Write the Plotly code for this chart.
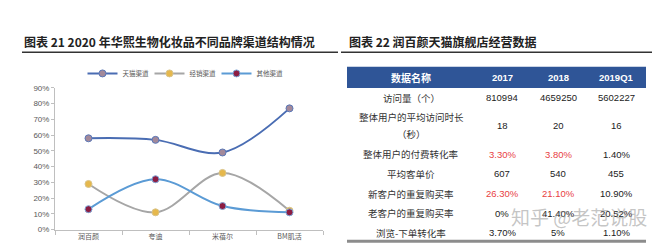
import plotly.graph_objects as go

W, H = 666, 252

# ---------------- data ----------------
brands = ["润百颜", "夸迪", "米蓓尔", "BM肌活"]
tmall = [58, 57, 49, 77]        # 天猫渠道
distrib = [29, 11, 36, 12]      # 经销渠道
other = [13, 32, 15, 11]        # 其他渠道
y_ticks = [0, 10, 20, 30, 40, 50, 60, 70, 80, 90]
y_tick_labels = ["0%", "10%", "20%", "30%", "40%", "50%", "60%", "70%", "80%", "90%"]

table_header = ["数据名称", "2017", "2018", "2019Q1"]
row_names = ["访问量（个）", "整体用户的平均访问时长\n（秒）", "整体用户的付费转化率",
             "平均客单价", "新客户的重复购买率", "老客户的重复购买率", "浏览-下单转化率"]
col_2017 = ["810994", "18", "3.30%", "607", "26.30%", "0%", "3.70%"]
col_2018 = ["4659250", "20", "3.80%", "540", "21.10%", "41.40%", "5%"]
col_2019 = ["5602227", "16", "1.40%", "455", "10.90%", "20.52%", "1.10%"]
red_cells = {(2, 0), (2, 1), (4, 0), (4, 1)}  # (row, value column)

title_left = "图表 21 2020 年华熙生物化妆品不同品牌渠道结构情况"
title_right = "图表 22 润百颜天猫旗舰店经营数据"
watermark = "知乎 @老范说股"


def px(x):
    return x / W


def py(y):
    return 1 - y / H


CJK = "Noto Sans CJK SC"
ARIAL = "Liberation Sans, Arial"

fig = go.Figure()

series = [
    ("天猫渠道", tmall, "#4a6db3", "#a3899a", "#5a78b8"),
    ("经销渠道", distrib, "#a6a6a6", "#e6b84c", "#d9c48a"),
    ("其他渠道", other, "#5b9bd5", "#8c1c42", "#7fa6d6"),
]
for name, vals, lc, mc, mlc in series:
    fig.add_trace(go.Scatter(
        x=brands, y=vals, name=name, mode="lines+markers",
        line=dict(color=lc, width=2, shape="spline", smoothing=1.0),
        marker=dict(color=mc, size=7, line=dict(color=mlc, width=1)),
        hoverinfo="skip",
    ))

fig.update_layout(
    width=W, height=H, margin=dict(l=0, r=0, t=0, b=0),
    paper_bgcolor="white", plot_bgcolor="white",
    showlegend=True,
    legend=dict(orientation="h", x=px(183), xanchor="center", y=py(72), yanchor="middle",
                font=dict(family=CJK, size=6.5, color="#595959"),
                itemwidth=30, entrywidth=22, entrywidthmode="pixels",
                bgcolor="rgba(0,0,0,0)"),
    xaxis=dict(domain=[px(55), px(323)], type="category", range=[-0.5, 3.5],
               showline=True, linecolor="#bfbfbf", linewidth=1,
               ticks="outside", tickson="boundaries", ticklen=4, tickcolor="#bfbfbf",
               showgrid=False, zeroline=False,
               tickfont=dict(family=CJK, size=7, color="#595959")),
    yaxis=dict(domain=[py(234), py(87)], range=[0, 90], tickvals=y_ticks,
               ticktext=y_tick_labels, showline=True, linecolor="#bfbfbf", linewidth=1,
               ticks="outside", ticklen=3, tickcolor="#bfbfbf",
               showgrid=False, zeroline=False,
               tickfont=dict(family=ARIAL, size=8, color="#595959")),
)

annotations = []
shapes = []


def txt(x, y, text, font, xanchor="center"):
    annotations.append(dict(xref="paper", yref="paper", x=px(x), y=py(y), xanchor=xanchor,
                            yanchor="middle", showarrow=False, text=text, font=font))


# titles
txt(22, 39, "<b>" + title_left + "</b>", dict(family=CJK, size=12, color="#222"), "left")
txt(347, 39, "<b>" + title_right + "</b>", dict(family=CJK, size=12, color="#222"), "left")
shapes.append(dict(type="line", xref="paper", yref="paper", x0=px(22), x1=px(338),
                   y0=py(50), y1=py(50), line=dict(color="#333", width=1.5)))
shapes.append(dict(type="line", xref="paper", yref="paper", x0=px(341), x1=px(652),
                   y0=py(50), y1=py(50), line=dict(color="#333", width=1.5)))

# table
col_x = [411, 502, 558, 616]
shapes.append(dict(type="rect", xref="paper", yref="paper", x0=px(347), x1=px(646),
                   y0=py(87), y1=py(65), fillcolor="#2f5597", line=dict(width=0)))
for j, h in enumerate(table_header):
    txt(col_x[j], 76, "<b>" + h + "</b>",
        dict(family=CJK if j == 0 else ARIAL, size=10 if j == 0 else 9.5, color="white"))

row_y = [97, 126, 156, 176, 197, 217, 237]
for i, name in enumerate(row_names):
    lines = name.split("\n")
    for k, ln in enumerate(lines):
        yy = row_y[i] if len(lines) == 1 else row_y[i] - 8.5 + 17 * k
        txt(col_x[0], yy, ln, dict(family=CJK, size=9.5, color="#333"))
    for j, col in enumerate([col_2017, col_2018, col_2019]):
        color = "#e8413f" if (i, j) in red_cells else "#222"
        txt(col_x[j + 1], row_y[i], col[i], dict(family=ARIAL, size=9.5, color=color))
shapes.append(dict(type="line", xref="paper", yref="paper", x0=px(347), x1=px(646),
                   y0=py(246), y1=py(246), line=dict(color="#8c8c8c", width=3)))

# watermark
txt(579, 220, watermark, dict(family=CJK, size=19, color="rgba(140,140,140,0.5)"))

fig.update_layout(annotations=annotations, shapes=shapes)
fig.write_html("out.html")
